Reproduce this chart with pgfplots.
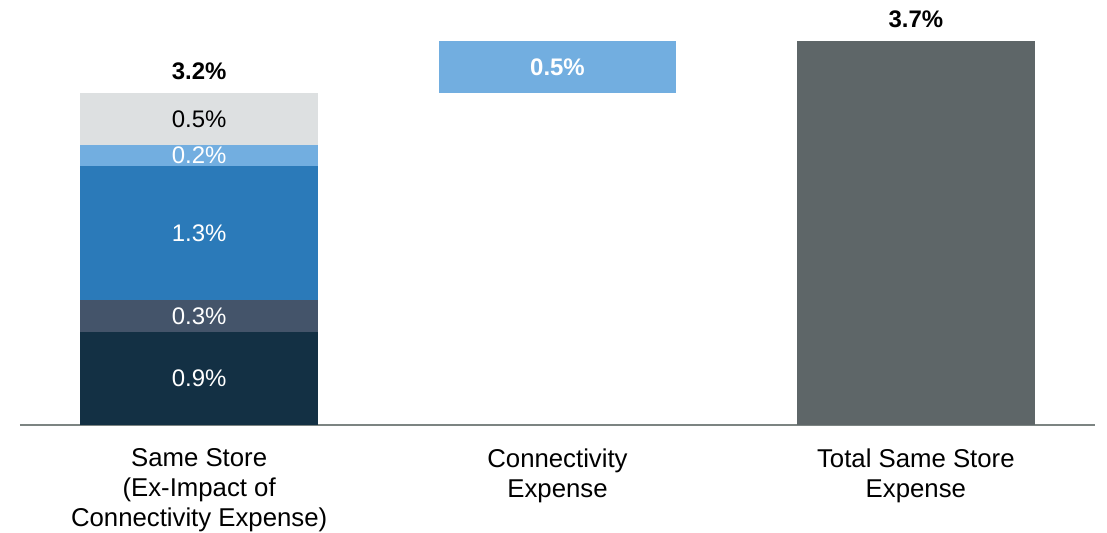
\documentclass[border=0pt]{standalone}
\usepackage{pgfplots}
\pgfplotsset{compat=1.18}
\usepackage{fontspec}
\setmainfont{Liberation Sans}
\definecolor{cNavy}{HTML}{133044}
\definecolor{cSlate}{HTML}{44546A}
\definecolor{cBlue}{HTML}{2B7AB9}
\definecolor{cLight}{HTML}{72AEE0}
\definecolor{cGrayL}{HTML}{DDE0E1}
\definecolor{cGrayD}{HTML}{5E6668}
\definecolor{cAxis}{HTML}{7C8482}
\tikzset{lbl/.style={font=\fontsize{12}{14}\selectfont, inner sep=0pt},
         blbl/.style={font=\fontsize{12}{14}\selectfont\bfseries, inner sep=0pt}}
\begin{document}
\begin{tikzpicture}
\begin{axis}[
  name=ax,
  x=179.5pt, y=51.9pt,
  xmin=-0.5, xmax=2.5, ymin=0, ymax=4.1,
  scale only axis,
  clip=false,
  ybar stacked,
  bar width=119pt,
  axis x line*=bottom,
  axis y line=none,
  x axis line style={cAxis, line width=0.8pt},
  xtick={0,1,2},
  xticklabels={{Same Store\\(Ex-Impact of\\Connectivity Expense)},{Connectivity\\Expense},{Total Same Store\\Expense}},
  major tick length=0pt,
  xticklabel style={align=center, font=\fontsize{12.9}{15}\selectfont, yshift=-8.5pt},
  ytick=\empty,
]
\addplot[draw=none, fill=cNavy] coordinates {(0,0.9) (1,0) (2,0)};
\addplot[draw=none, fill=cSlate] coordinates {(0,0.3) (1,0) (2,0)};
\addplot[draw=none, fill=cBlue] coordinates {(0,1.3) (1,0) (2,0)};
\addplot[draw=none, fill=cLight] coordinates {(0,0.2) (1,0) (2,0)};
\addplot[draw=none, fill=cGrayL] coordinates {(0,0.5) (1,0) (2,0)};
\addplot[draw=none, fill=white, fill opacity=0] coordinates {(0,0) (1,3.2) (2,0)};
\addplot[draw=none, fill=cLight] coordinates {(0,0) (1,0.5) (2,0)};
\addplot[draw=none, fill=cGrayD] coordinates {(0,0) (1,0) (2,3.7)};
\coordinate (l1) at (axis cs:0,0.45);
\coordinate (l2) at (axis cs:0,1.05);
\coordinate (l3) at (axis cs:0,1.85);
\coordinate (l4) at (axis cs:0,2.60);
\coordinate (l5) at (axis cs:0,2.95);
\coordinate (t1) at (axis cs:0,3.41);
\coordinate (t2) at (axis cs:1,3.45);
\coordinate (t3) at (axis cs:2,3.91);
\end{axis}
\node[lbl, white] at (l1) {0.9\%};
\node[lbl, white] at (l2) {0.3\%};
\node[lbl, white] at (l3) {1.3\%};
\node[lbl, white] at (l4) {0.2\%};
\node[lbl, black] at (l5) {0.5\%};
\node[blbl, black] at (t1) {3.2\%};
\node[blbl, white] at (t2) {0.5\%};
\node[blbl, black] at (t3) {3.7\%};
\pgfresetboundingbox
\path ([xshift=-10pt,yshift=-54pt]ax.south west) rectangle ([xshift=6pt]ax.north east);
\end{tikzpicture}
\end{document}
